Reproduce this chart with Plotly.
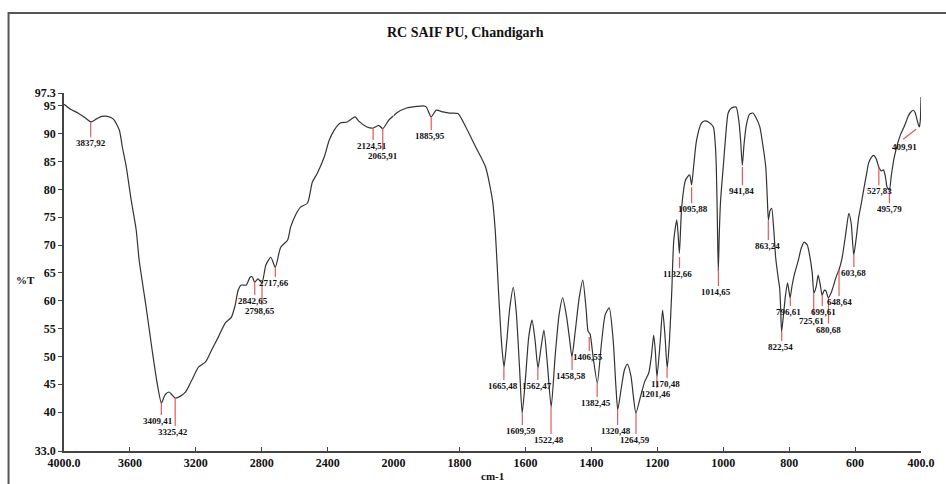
import plotly.graph_objects as go

# ---------------- data ----------------
# 4000-2000 cm-1 part (compressed scale)
wn_left = [4000, 3960, 3916, 3870, 3838, 3800, 3770, 3736, 3700, 3664,
           3646, 3622, 3592, 3562, 3544, 3502, 3465, 3435, 3409, 3387,
           3363, 3342, 3325, 3291, 3262, 3225, 3183, 3141, 3105, 3063,
           3021, 2985, 2963, 2943, 2925, 2895, 2871, 2858, 2843, 2823,
           2799, 2775, 2745, 2718, 2685, 2643, 2625, 2595, 2565, 2523,
           2493, 2463, 2421, 2391, 2361, 2324, 2282, 2234, 2210, 2162,
           2125, 2090, 2066, 2030, 2000]
t_left = [95.3, 94.4, 93.7, 92.8, 92.1, 92.7, 93.1, 93.1, 92.6, 90.6,
          87.6, 84.0, 78.0, 72.7, 67.3, 58.9, 51.1, 45.2, 41.6, 43.1,
          43.6, 43.0, 42.5, 42.9, 43.6, 45.7, 48.1, 49.0, 51.1, 53.5,
          56.0, 57.0, 59.0, 61.9, 62.8, 62.8, 64.2, 64.3, 63.3, 63.9,
          63.2, 66.4, 67.8, 66.0, 69.6, 70.9, 73.2, 75.4, 76.8, 77.5,
          81.3, 82.9, 85.8, 88.8, 90.6, 91.9, 92.1, 93.0, 92.2, 91.2,
          91.0, 91.5, 90.9, 92.4, 93.2]

# 2000-400 cm-1 part (expanded scale)
wn_right = [2000, 1991, 1961, 1930, 1910, 1901, 1886, 1871, 1850, 1830,
            1805, 1781, 1751, 1721, 1700, 1691, 1682, 1672, 1665, 1657,
            1648, 1637, 1628, 1618, 1610, 1600, 1590, 1580, 1571, 1562,
            1553, 1544, 1534, 1522, 1510, 1498, 1487, 1475, 1466, 1459,
            1449, 1437, 1426, 1416, 1410, 1404, 1395, 1382, 1370, 1358,
            1346, 1334, 1326, 1320, 1310, 1300, 1291, 1280, 1272, 1265,
            1250, 1238, 1226, 1218, 1211, 1206, 1201, 1192, 1184, 1177,
            1170, 1163, 1156, 1150, 1141, 1137, 1133, 1126, 1114, 1102,
            1096, 1090, 1081, 1066, 1055, 1045, 1030, 1024, 1021, 1018,
            1015, 1012, 1008, 1000, 992, 985, 975, 961, 952, 947,
            942, 937, 930, 920, 910, 900, 889, 880, 871, 866,
            863, 858, 853, 847, 841, 833, 829, 826, 823, 818,
            811, 805, 800, 797, 792, 785, 772, 763, 754, 745,
            739, 730, 725, 718, 712, 706, 700, 693, 688, 681,
            672, 664, 656, 649, 640, 631, 625, 619, 612, 604,
            597, 589, 581, 574, 566, 559, 551, 544, 536, 528,
            521, 514, 508, 503, 496, 490, 482, 475, 468, 461,
            453, 446, 440, 432, 423, 418, 414, 409, 405, 402,
            400]
t_right = [93.2, 93.7, 94.6, 94.9, 95.0, 94.8, 93.0, 94.2, 93.9, 93.7,
           93.6, 91.2, 87.6, 84.0, 78.0, 72.0, 61.9, 52.0, 48.1, 52.5,
           58.5, 62.4, 58.0, 48.0, 39.8, 46.0, 53.5, 56.5, 53.0, 47.9,
           51.5, 54.7, 49.0, 40.9, 50.0, 57.5, 60.5, 57.0, 53.0, 49.9,
           54.5, 60.5, 63.7, 58.5, 54.5, 54.0, 50.0, 45.2, 52.0, 57.5,
           58.7, 53.0, 45.0, 40.4, 44.0, 47.5, 48.6, 46.5, 42.5, 39.8,
           43.0, 45.5, 47.0, 50.0, 53.8, 51.0, 46.3, 52.0, 58.3, 54.0,
           47.9, 53.0, 61.9, 70.9, 74.5, 72.0, 68.5, 76.8, 81.7, 82.6,
           80.8, 84.0, 88.8, 91.9, 92.3, 92.1, 91.2, 88.0, 84.0, 75.0,
           65.3, 72.0, 78.0, 84.0, 90.0, 93.7, 94.6, 94.8, 92.0, 88.5,
           84.3, 88.0, 91.5, 93.5, 93.7, 92.8, 91.2, 88.0, 84.0, 78.0,
           74.5, 76.2, 76.6, 73.0, 67.8, 64.0, 62.4, 58.9, 54.4, 57.0,
           61.0, 63.2, 61.5, 60.5, 62.4, 64.5, 67.3, 69.5, 70.5, 70.0,
           68.5, 65.0, 61.4, 62.5, 64.6, 63.0, 61.0, 61.9, 61.7, 60.5,
           61.5, 63.0, 64.5, 65.5, 67.5, 70.9, 73.5, 75.7, 74.0, 68.2,
           71.0, 75.0, 77.5, 79.9, 82.5, 84.7, 85.7, 86.1, 85.5, 84.0,
           83.3, 83.5, 82.3, 80.4, 79.9, 82.5, 85.5, 87.3, 88.8, 90.0,
           91.0, 92.0, 93.0, 93.8, 94.2, 93.8, 93.0, 91.8, 91.2, 92.5,
           96.6]

# picked peaks: position, %T at the peak, printed label
peak_wn = [3837.92, 3409.41, 3325.42, 2842.65, 2798.65, 2717.66, 2124.51,
           2065.91, 1885.95, 1665.48, 1609.59, 1562.47, 1522.48, 1458.58,
           1406.55, 1382.45, 1320.48, 1264.59, 1201.46, 1170.48, 1132.66,
           1095.88, 1014.65, 941.84, 863.24, 822.54, 796.61, 725.61,
           699.61, 680.68, 648.64, 603.68, 527.83, 495.79]
peak_t = [92.07, 41.62, 42.52, 63.34, 63.16, 66.03, 90.99,
          90.99, 92.96, 48.08, 39.82, 47.90, 40.90, 49.88,
          53.47, 45.21, 40.36, 39.82, 46.29, 47.90, 67.83,
          80.40, 65.50, 83.99, 74.47, 54.36, 60.47, 61.37,
          61.01, 60.47, 65.50, 68.19, 83.99, 79.86]
peak_text = ["3837,92", "3409,41", "3325,42", "2842,65", "2798,65", "2717,66",
             "2124,51", "2065,91", "1885,95", "1665,48", "1609,59", "1562,47",
             "1522,48", "1458,58", "1406,55", "1382,45", "1320,48", "1264,59",
             "1201,46", "1170,48", "1132,66", "1095,88", "1014,65", "941,84",
             "863,24", "822,54", "796,61", "725,61", "699,61", "680,68",
             "648,64", "603,68", "527,83", "495,79"]
# end of each red marker line (%T) where its label hangs
marker_end_t = [89.37, 39.46, 37.49, 61.01, 59.21, 64.24, 88.84,
                87.00, 90.63, 45.75, 37.67, 45.75, 36.05, 47.54,
                50.95, 42.69, 37.67, 36.05, 44.31, 46.11, 65.85,
                77.52, 62.62, 80.75, 70.88, 52.75, 59.03, 57.40,
                59.03, 55.90, 60.83, 66.03, 80.75, 77.52]
label_dx = [0, -3, -2, -2, -2, -1, -1, 0, -1, -1, -1, -1, -2, -1, -1, -1,
            -2, -1, -1, -2, -2, 1, -2, -1, -1, -1, -2, -2, 1, 0, 0, 0, 1, 0]

# baseline marker near the end of the spectrum
base_wn = [454, 415]
base_t = [89.0, 90.8]
base_text = "409,91"

yticks = [33, 40, 45, 50, 55, 60, 65, 70, 75, 80, 85, 90, 95, 97.3]
ytick_text = ["33.0", "40", "45", "50", "55", "60", "65", "70", "75", "80",
              "85", "90", "95", "97.3"]
x1_ticks = [4000, 3600, 3200, 2800, 2400]
x1_text = ["4000.0", "3600", "3200", "2800", "2400"]
x2_ticks = [2000, 1800, 1600, 1400, 1200, 1000, 800, 600, 400]
x2_text = ["2000", "1800", "1600", "1400", "1200", "1000", "800", "600", "400.0"]

# ---------------- figure ----------------
SERIF = "Liberation Serif, Times New Roman, serif"
LINE = "#333333"
RED = "#e05a5a"

fig = go.Figure()
fig.add_trace(go.Scatter(x=wn_left, y=t_left, xaxis="x", yaxis="y", mode="lines",
                         line=dict(color=LINE, width=1.2, shape="spline", smoothing=0.6),
                         showlegend=False, hoverinfo="x+y"))
fig.add_trace(go.Scatter(x=wn_right, y=t_right, xaxis="x2", yaxis="y", mode="lines",
                         line=dict(color=LINE, width=1.2, shape="spline", smoothing=0.6),
                         showlegend=False, hoverinfo="x+y"))

shapes = []
annotations = []
for w, t, txt, te, dx in zip(peak_wn, peak_t, peak_text, marker_end_t, label_dx):
    xr = "x" if w > 2000 else "x2"
    shapes.append(dict(type="line", xref=xr, yref="y", x0=w, x1=w, y0=t, y1=te,
                       line=dict(color=RED, width=1.2)))
    annotations.append(dict(x=w, y=te, xref=xr, yref="y", text=txt, showarrow=False,
                            xanchor="center", yanchor="top", xshift=dx, yshift=1,
                            font=dict(family=SERIF, size=9, color="#111", weight="bold")))

shapes.append(dict(type="line", xref="x2", yref="y", x0=base_wn[0], x1=base_wn[1],
                   y0=base_t[0], y1=base_t[1], line=dict(color=RED, width=1.2)))
annotations.append(dict(x=450, y=base_t[0], xref="x2", yref="y", text=base_text,
                        showarrow=False, xanchor="center", yanchor="top", yshift=-1,
                        font=dict(family=SERIF, size=9, color="#111", weight="bold")))

# outer frame
shapes.append(dict(type="rect", xref="paper", yref="paper", x0=-0.0647, x1=1.05,
                   y0=-0.3, y1=1.2235, line=dict(color="#555", width=2), layer="below"))

annotations.append(dict(x=0.4688, y=1.1676, xref="paper", yref="paper",
                        text="RC SAIF PU, Chandigarh", showarrow=False,
                        xanchor="center", yanchor="middle",
                        font=dict(family=SERIF, size=14, color="#111", weight="bold")))
annotations.append(dict(x=-0.045, y=0.4777, xref="paper", yref="paper", text="%T",
                        showarrow=False, xanchor="center", yanchor="middle",
                        font=dict(family=SERIF, size=11, color="#111", weight="bold")))
annotations.append(dict(x=0.5, y=-0.0698, xref="paper", yref="paper", text="cm-1",
                        showarrow=False, xanchor="center", yanchor="middle",
                        font=dict(family=SERIF, size=11, color="#111", weight="bold")))

tickfont = dict(family=SERIF, size=12, color="#111", weight="bold")
axis_common = dict(showline=True, linecolor="#444", linewidth=1.5, showgrid=False,
                   zeroline=False, ticks="inside", ticklen=4, tickcolor="#444",
                   tickfont=tickfont)

fig.update_layout(
    width=946, height=484,
    margin=dict(l=64, r=16, t=93, b=33),
    paper_bgcolor="white", plot_bgcolor="white",
    shapes=shapes, annotations=annotations,
    xaxis=dict(domain=[0, 5 / 13], range=[4000, 2000], tickmode="array",
               tickvals=x1_ticks, ticktext=x1_text, anchor="y", **axis_common),
    xaxis2=dict(domain=[5 / 13, 1], range=[2000, 400], tickmode="array",
                tickvals=x2_ticks, ticktext=x2_text, anchor="y", **axis_common),
    yaxis=dict(range=[33, 97.3], tickmode="array", tickvals=yticks, ticktext=ytick_text,
               showline=True, linecolor="#444", linewidth=1.5, showgrid=False,
               zeroline=False, ticks="outside", ticklen=4, tickcolor="#444",
               tickfont=tickfont, anchor="x"),
)

fig.write_html("out.html")
